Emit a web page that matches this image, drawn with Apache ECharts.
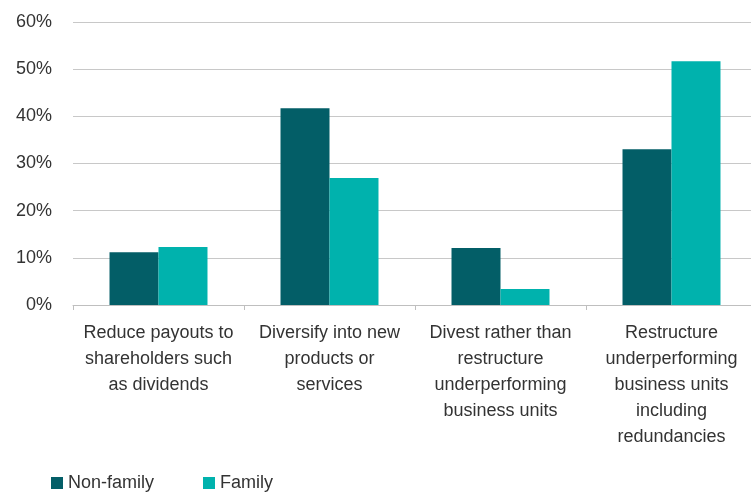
<!DOCTYPE html>
<html>
<head>
<meta charset="utf-8">
<script src="https://cdn.jsdelivr.net/npm/echarts@6/dist/echarts.min.js"></script>
<style>html,body{margin:0;padding:0;background:#fff;overflow:hidden;width:751px;height:492px;}#c{width:757px;height:492px;}</style>
</head>
<body>
<div id="c"></div>
<script>
const categories = [
  "Reduce payouts to\nshareholders such\nas dividends",
  "Diversify into new\nproducts or\nservices",
  "Divest rather than\nrestructure\nunderperforming\nbusiness units",
  "Restructure\nunderperforming\nbusiness units\nincluding\nredundancies"
];
const nonFamily = [11.2, 41.7, 12.1, 33.0];
const family = [12.3, 26.9, 3.4, 51.7];
const seriesNames = ["Non-family", "Family"];

const chart = echarts.init(document.getElementById('c'), null, {renderer: 'canvas'});
const FONT = 'Liberation Sans';
chart.setOption({
  animation: false,
  backgroundColor: '#ffffff',
  grid: {left: 73, top: 22, bottom: 187, right: 0, containLabel: false},
  legend: {
    left: 46, top: 469, icon: 'rect', itemWidth: 12, itemHeight: 12, itemGap: 49,
    textStyle: {fontFamily: FONT, fontSize: 18, color: '#333'},
    data: seriesNames
  },
  xAxis: {
    type: 'category', data: categories,
    axisLine: {lineStyle: {color: '#bfbfbf', width: 1}},
    axisTick: {show: true, length: 5, lineStyle: {color: '#bfbfbf'}},
    axisLabel: {interval: 0, margin: 15, fontFamily: FONT, fontSize: 18, lineHeight: 26, color: '#333', align: 'center'}
  },
  yAxis: {
    type: 'value', min: 0, max: 60, interval: 10,
    axisLine: {show: false}, axisTick: {show: false},
    splitLine: {lineStyle: {color: '#c8c8c8', width: 1}},
    axisLabel: {formatter: '{value}%', margin: 21, fontFamily: FONT, fontSize: 18, color: '#333'}
  },
  series: [
    {name: seriesNames[0], type: 'bar', data: nonFamily, itemStyle: {color: '#035e67'}, barGap: '0%', barCategoryGap: '42.7%'},
    {name: seriesNames[1], type: 'bar', data: family, itemStyle: {color: '#00b2ad'}, barGap: '0%', barCategoryGap: '42.7%'}
  ]
});
</script>
</body>
</html>
